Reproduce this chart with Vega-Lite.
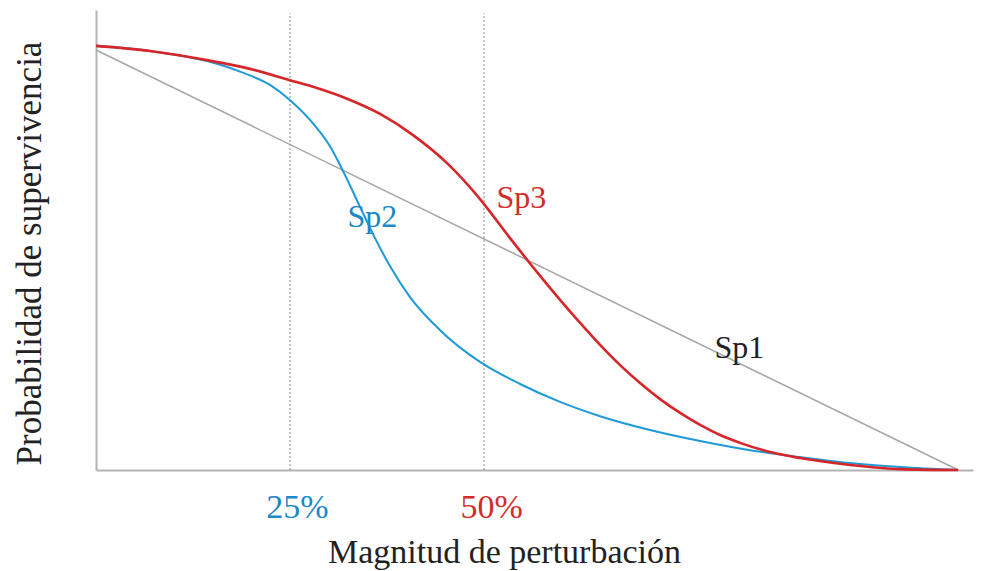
{
  "$schema": "https://vega.github.io/schema/vega-lite/v6.json",
  "autosize": {"type": "none"},
  "width": 877,
  "height": 460,
  "padding": {"left": 96, "top": 10, "right": 21, "bottom": 101},
  "background": "white",
  "config": {"view": {"stroke": null}, "font": "Liberation Serif"},
  "datasets": {
    "curves": [
      {"series": "Sp1", "x": 0, "y": 0.913},
      {"series": "Sp1", "x": 111.1, "y": 0},
      {"series": "Sp2", "x": 0, "y": 0.922},
      {"series": "Sp2", "x": 6.96, "y": 0.911},
      {"series": "Sp2", "x": 14.3, "y": 0.889},
      {"series": "Sp2", "x": 18.56, "y": 0.866},
      {"series": "Sp2", "x": 22.42, "y": 0.837},
      {"series": "Sp2", "x": 25.0, "y": 0.804},
      {"series": "Sp2", "x": 27.58, "y": 0.761},
      {"series": "Sp2", "x": 30.15, "y": 0.704},
      {"series": "Sp2", "x": 32.09, "y": 0.641},
      {"series": "Sp2", "x": 34.02, "y": 0.572},
      {"series": "Sp2", "x": 35.95, "y": 0.504},
      {"series": "Sp2", "x": 37.89, "y": 0.443},
      {"series": "Sp2", "x": 40.46, "y": 0.376},
      {"series": "Sp2", "x": 44.33, "y": 0.304},
      {"series": "Sp2", "x": 49.48, "y": 0.235},
      {"series": "Sp2", "x": 54.64, "y": 0.187},
      {"series": "Sp2", "x": 59.79, "y": 0.148},
      {"series": "Sp2", "x": 64.95, "y": 0.117},
      {"series": "Sp2", "x": 71.39, "y": 0.087},
      {"series": "Sp2", "x": 77.84, "y": 0.063},
      {"series": "Sp2", "x": 84.28, "y": 0.043},
      {"series": "Sp2", "x": 90.72, "y": 0.028},
      {"series": "Sp2", "x": 97.16, "y": 0.015},
      {"series": "Sp2", "x": 103.61, "y": 0.0065},
      {"series": "Sp2", "x": 111.08, "y": 0},
      {"series": "Sp3", "x": 0, "y": 0.922},
      {"series": "Sp3", "x": 6.96, "y": 0.911},
      {"series": "Sp3", "x": 14.3, "y": 0.891},
      {"series": "Sp3", "x": 19.85, "y": 0.872},
      {"series": "Sp3", "x": 24.87, "y": 0.848},
      {"series": "Sp3", "x": 27.96, "y": 0.833},
      {"series": "Sp3", "x": 32.35, "y": 0.807},
      {"series": "Sp3", "x": 36.6, "y": 0.774},
      {"series": "Sp3", "x": 40.85, "y": 0.728},
      {"series": "Sp3", "x": 45.23, "y": 0.667},
      {"series": "Sp3", "x": 49.48, "y": 0.589},
      {"series": "Sp3", "x": 53.35, "y": 0.504},
      {"series": "Sp3", "x": 57.22, "y": 0.422},
      {"series": "Sp3", "x": 59.79, "y": 0.37},
      {"series": "Sp3", "x": 62.37, "y": 0.32},
      {"series": "Sp3", "x": 64.95, "y": 0.272},
      {"series": "Sp3", "x": 67.53, "y": 0.228},
      {"series": "Sp3", "x": 70.1, "y": 0.189},
      {"series": "Sp3", "x": 72.68, "y": 0.154},
      {"series": "Sp3", "x": 75.26, "y": 0.124},
      {"series": "Sp3", "x": 77.84, "y": 0.098},
      {"series": "Sp3", "x": 80.41, "y": 0.076},
      {"series": "Sp3", "x": 82.99, "y": 0.059},
      {"series": "Sp3", "x": 86.86, "y": 0.039},
      {"series": "Sp3", "x": 90.72, "y": 0.026},
      {"series": "Sp3", "x": 97.16, "y": 0.011},
      {"series": "Sp3", "x": 103.61, "y": 0.002},
      {"series": "Sp3", "x": 111.08, "y": 0}
    ],
    "marks": [{"x": 25}, {"x": 50}],
    "labels": [
      {"name": "Sp1", "x": 82.9, "y": 0.243},
      {"name": "Sp2", "x": 35.6, "y": 0.528},
      {"name": "Sp3", "x": 54.8, "y": 0.57}
    ]
  },
  "resolve": {"scale": {"color": "independent"}},
  "layer": [
    {
      "data": {"name": "marks"},
      "mark": {"type": "rule", "color": "#8a8a8a", "strokeWidth": 1, "strokeDash": [2, 2]},
      "encoding": {
        "x": {"field": "x", "type": "quantitative", "scale": {"domain": [0, 113], "nice": false, "zero": false},
          "axis": {
            "values": [25, 50],
            "labelExpr": "datum.value + '%'",
            "ticks": false,
            "grid": false,
            "domainColor": "#b4b4b4",
            "domainWidth": 2,
            "labelFont": "Liberation Serif",
            "labelFontSize": 34,
            "labelPadding": 20,
            "labelOffset": 7,
            "labelColor": {"condition": {"test": "datum.value == 25", "value": "#1c88c9"}, "value": "#d42b2b"},
            "title": "Magnitud de perturbación",
            "titleFont": "Liberation Serif",
            "titleFontSize": 34,
            "titleFontWeight": "normal",
            "titleColor": "#222222",
            "titleBaseline": "alphabetic",
            "titleAlign": "center",
            "titleX": 408,
            "titleY": 92
          }},
        "y": {"datum": 0, "type": "quantitative", "scale": {"domain": [0, 1], "nice": false},
          "axis": {
            "labels": false,
            "ticks": false,
            "grid": false,
            "domainColor": "#b4b4b4",
            "domainWidth": 2,
            "title": "Probabilidad de supervivencia",
            "titleFont": "Liberation Serif",
            "titleFontSize": 35,
            "titleFontWeight": "normal",
            "titleColor": "#222222",
            "titleBaseline": "alphabetic",
            "titleAngle": -90,
            "titleX": -56,
            "titleY": 243
          }},
        "y2": {"datum": 0.993}
      }
    },
    {
      "data": {"name": "curves"},
      "mark": {"type": "line", "interpolate": "monotone"},
      "encoding": {
        "x": {"field": "x", "type": "quantitative"},
        "y": {"field": "y", "type": "quantitative"},
        "detail": {"field": "series"},
        "color": {"field": "series", "type": "nominal", "scale": {"domain": ["Sp1", "Sp2", "Sp3"], "range": ["#a6a6a6", "#1e9ad8", "#d7262a"]}, "legend": null},
        "strokeWidth": {"field": "series", "type": "nominal", "scale": {"domain": ["Sp1", "Sp2", "Sp3"], "range": [1.5, 2.6, 2.6]}, "legend": null},
        "order": {"field": "x", "type": "quantitative"}
      }
    },
    {
      "data": {"name": "labels"},
      "mark": {"type": "text", "font": "Liberation Serif", "fontSize": 32, "align": "center", "baseline": "alphabetic"},
      "encoding": {
        "x": {"field": "x", "type": "quantitative"},
        "y": {"field": "y", "type": "quantitative"},
        "text": {"field": "name"},
        "color": {"field": "name", "type": "nominal", "scale": {"domain": ["Sp1", "Sp2", "Sp3"], "range": ["#222222", "#1c88c9", "#d42b2b"]}, "legend": null}
      }
    }
  ]
}
